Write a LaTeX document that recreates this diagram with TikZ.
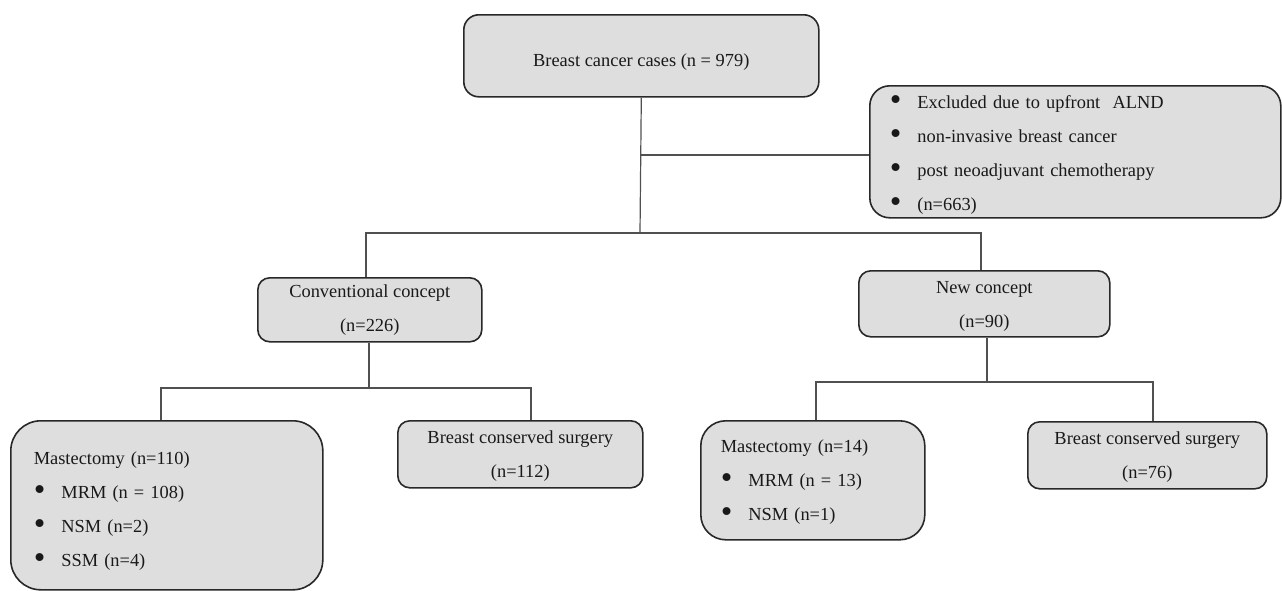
\documentclass[tikz,border=0pt]{standalone}
\usepackage{fontspec}
\setmainfont{Liberation Serif}
\definecolor{boxfill}{RGB}{222,222,222}
\definecolor{boxline}{RGB}{40,40,40}
\definecolor{linkc}{RGB}{80,80,80}
\definecolor{txt}{RGB}{25,25,25}
\newcommand\mybullet{\raisebox{-2pt}{\scalebox{1.8}{•}}\hspace{16pt}}
\begin{document}
\begin{tikzpicture}[x=1pt,y=-1pt,
  box/.style={draw=boxline, line width=1.6pt, fill=boxfill, rounded corners=#1,
    anchor=north west, inner sep=0pt, text=txt, align=center,
    font=\fontsize{18.4}{34}\selectfont},
  box/.default=12pt,
  link/.style={draw=linkc, line width=1.2pt, line join=miter}]
\useasboundingbox (0,0) rectangle (1282,590);

% boxes
\node[box=15pt, minimum width=355pt, minimum height=82pt] (top) at (463,14)
  {\raisebox{-6pt}[\height][\depth]{Breast cancer cases (n = 979)}};
\node[box=20pt, minimum height=132pt, text width=371pt, inner xsep=20pt, align=left] (excl) at (869,85)
  {\rule{0pt}{19pt}\mybullet Excluded due to upfront\ \ ALND\\
   \mybullet non-invasive breast cancer\\
   \mybullet post neoadjuvant chemotherapy\\
   \mybullet (n=663)};
\node[box=12pt, minimum width=224pt, minimum height=64pt] (conv) at (257,277)
  {Conventional concept\\(n=226)};
\node[box=12pt, minimum width=251pt, minimum height=66pt] (newc) at (858,270)
  {\rule{0pt}{17pt}New concept\\(n=90)};
\node[box=30pt, minimum height=169pt, text width=266pt, inner xsep=23pt, align=left] (mastL) at (10,420)
  {\rule{0pt}{24pt}Mastectomy (n=110)\\
   \mybullet MRM (n = 108)\\
   \mybullet NSM (n=2)\\
   \mybullet SSM (n=4)};
\node[box=12pt, minimum width=245pt, minimum height=67pt] (bcsL) at (397,420)
  {\rule{0pt}{17pt}Breast conserved surgery\\(n=112)};
\node[box=25pt, minimum height=119pt, text width=184pt, inner xsep=20pt, align=left] (mastR) at (700,420)
  {\rule{0pt}{17pt}Mastectomy (n=14)\\
   \mybullet MRM (n = 13)\\
   \mybullet NSM (n=1)};
\node[box=12pt, minimum width=239pt, minimum height=67pt] (bcsR) at (1027,421)
  {\rule{0pt}{17pt}Breast conserved surgery\\(n=76)};

% junction points
\coordinate (jt) at (640,233);
\coordinate (jl) at (366,233);
\coordinate (jr) at (981,233);
\coordinate (je) at (640,155);
\coordinate (jc) at (369,388);
\coordinate (jcl) at (161,388);
\coordinate (jcr) at (531,388);
\coordinate (jn) at (987,382);
\coordinate (jnl) at (816,382);
\coordinate (jnr) at (1153,382);

% connectors
\draw[link] (top.south) -- (jt);
\draw[link] (je) -- (je -| excl.west);
\draw[link] (jl |- conv.north) -- (jl) -- (jr) -- (jr |- newc.north);
\draw[link] (jc |- conv.south) -- (jc);
\draw[link] (jcl |- mastL.north) -- (jcl) -- (jcr) -- (jcr |- bcsL.north);
\draw[link] (jn |- newc.south) -- (jn);
\draw[link] (jnl |- mastR.north) -- (jnl) -- (jnr) -- (jnr |- bcsR.north);
\end{tikzpicture}
\end{document}
